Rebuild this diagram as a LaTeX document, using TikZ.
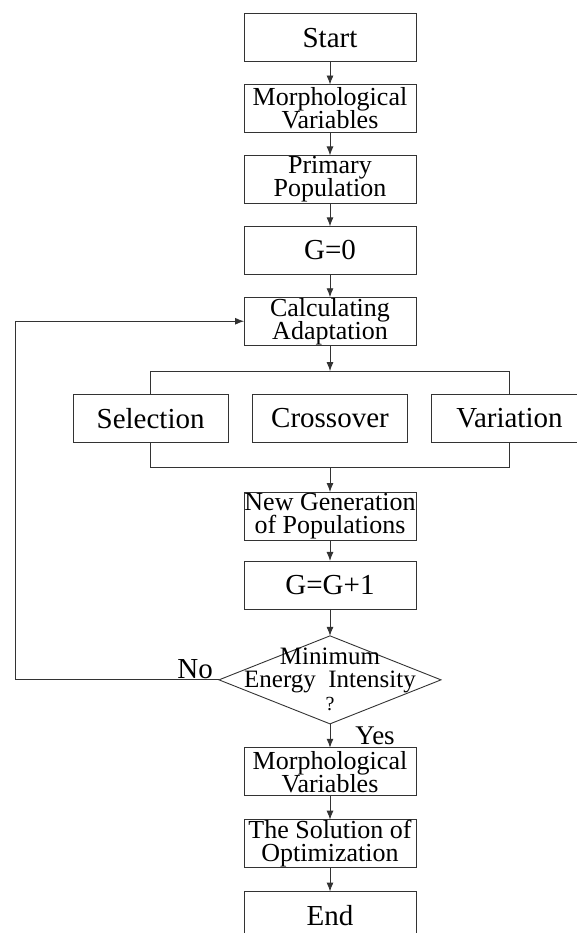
\documentclass[tikz,border=0pt]{standalone}
\usepackage{fontspec}
\setmainfont{Liberation Serif}
\usetikzlibrary{matrix,positioning,shapes.geometric,arrows.meta}

\newcommand{\twolines}[2]{\parbox{172pt}{\centering\fontsize{26pt}{23pt}\selectfont\lineskiplimit=-100pt #1\\#2}}
\newcommand{\asktext}{\parbox{222pt}{\centering\fontsize{25pt}{23pt}\selectfont\lineskiplimit=-100pt Minimum\\Energy~~Intensity\\{\fontsize{20pt}{23pt}\selectfont ?}}}

\begin{document}
\begin{tikzpicture}[
plain/.style={
  draw=none,
  fill=none,
  minimum width=0pt,
  minimum height=0pt,
  },
box/.style={
  draw=black!80,
  line width=0.9pt,
  rectangle,
  minimum width=172pt,
  minimum height=48pt,
  inner sep=0pt,
  outer sep=0pt,
  },
op/.style={
  minimum width=155pt,
  },
decision/.style={
  diamond,
  minimum width=222pt,
  minimum height=88pt,
  },
flow/.style={
  matrix of nodes,
  nodes={
    box,
    anchor=center
    },
  inner sep=0pt,
  column sep=-10pt,
  row sep=22pt
  },
line/.style={
  draw=black!80,
  line width=0.9pt
  },
>={Latex[length=9pt,width=7pt]},
font=\fontsize{29pt}{30pt}\selectfont
]
\useasboundingbox (0pt,0pt) rectangle (576pt,-933pt);

\matrix[flow, anchor=north] (fc) at (330pt,-13pt)
{
& Start \\
& \twolines{Morphological}{Variables} \\
& \twolines{Primary}{Population} \\
& G=0 \\
& \twolines{Calculating}{Adaptation} \\[26pt]
|[op]| Selection & |[op]| Crossover & |[op]| Variation \\[27pt]
& \twolines{New Generation}{of Populations} \\[-2pt]
& G=G+1 \\[4pt]
& |[decision, label={[plain, name=ask]center:\asktext}]| \\[1pt]
& \twolines{Morphological}{Variables} \\[1pt]
& \twolines{The Solution of}{Optimization} \\[1pt]
& End \\
};

\foreach \a/\b in {1/2,2/3,3/4,4/5,7/8,8/9,10/11,11/12}
  \draw[line,->] (fc-\a-2) -- (fc-\b-2);

% split to the three operators and join again
\draw[line] (fc-6-1.north) -- ++(0,23pt) coordinate (fork) -| (fc-6-3.north);
\draw[line,->] (fc-5-2) -- (fc-5-2 |- fork);
\draw[line] (fc-6-1.south) -- ++(0,-25pt) coordinate (merge) -| (fc-6-3.south);
\draw[line,->] (fc-7-2 |- merge) -- (fc-7-2);

% decision
\draw[line,->] (fc-9-2) -- node[anchor=west, inner sep=0pt, xshift=25pt, font=\fontsize{27pt}{28pt}\selectfont] (yes) {Yes} (fc-10-2);
\draw[line,->] (fc-9-2.west) -- ++(-204pt,0) coordinate (back) |- (fc-5-2.west);
\node[anchor=south east, inner sep=0pt] (no) at ([xshift=-6pt,yshift=1pt]fc-9-2.west) {No};

\end{tikzpicture}
\end{document}
